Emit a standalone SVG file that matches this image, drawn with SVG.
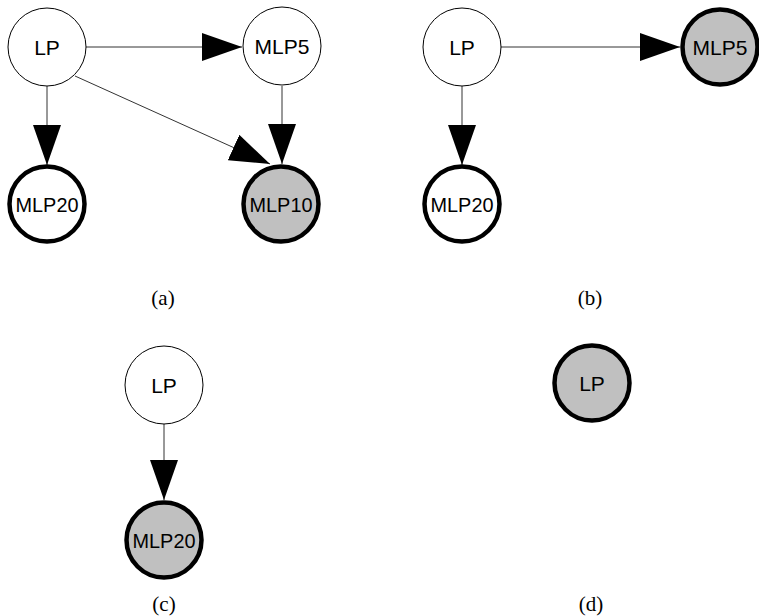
<svg xmlns="http://www.w3.org/2000/svg" width="759" height="616" viewBox="0 0 759 616">
<defs>
<marker id="ah" markerUnits="userSpaceOnUse" markerWidth="40" markerHeight="28" refX="40" refY="14" orient="auto">
<path d="M0,0 L40,14 L0,28 z" fill="#000"/>
</marker>
<style>
.n{fill:#fff;stroke:#000;stroke-width:1}
.o{fill:#fff;stroke:#000;stroke-width:4.5}
.g{fill:#c0c0c0;stroke:#000;stroke-width:4.5}
.t{font-family:"Liberation Sans",Arial,sans-serif;font-size:21px;fill:#000;text-anchor:middle}
.c{font-family:"Liberation Serif","Times New Roman",serif;font-size:21px;fill:#000;text-anchor:middle}
.e{stroke:#333;stroke-width:1;fill:none;marker-end:url(#ah)}
</style>
</defs>
<rect width="759" height="616" fill="#fff"/>
<g id="edges">
<line class="e" x1="86" y1="47" x2="242" y2="47"/>
<line class="e" x1="47" y1="86" x2="47" y2="165"/>
<line class="e" x1="75" y1="76" x2="270" y2="164"/>
<line class="e" x1="282" y1="86" x2="282" y2="164"/>
<line class="e" x1="501" y1="47" x2="680" y2="47"/>
<line class="e" x1="462" y1="86" x2="462" y2="165"/>
<line class="e" x1="164" y1="424" x2="164" y2="500"/>
</g>
<g id="a_LP"><circle class="n" cx="47" cy="47" r="39"/><text class="t" x="47" y="55">LP</text></g>
<g id="a_MLP5"><circle class="n" cx="282" cy="46" r="39"/><text class="t" x="282" y="54">MLP5</text></g>
<g id="a_MLP20"><circle class="o" cx="47" cy="204" r="37.5"/><text class="t" x="47" y="212" textLength="63" lengthAdjust="spacingAndGlyphs">MLP20</text></g>
<g id="a_MLP10"><circle class="g" cx="281" cy="204" r="37.5"/><text class="t" x="281" y="212" textLength="63" lengthAdjust="spacingAndGlyphs">MLP10</text></g>
<g id="b_LP"><circle class="n" cx="462" cy="47" r="39"/><text class="t" x="462" y="55">LP</text></g>
<g id="b_MLP5"><circle class="g" cx="720" cy="47" r="37.5"/><text class="t" x="720" y="55">MLP5</text></g>
<g id="b_MLP20"><circle class="o" cx="462" cy="204" r="37.5"/><text class="t" x="462" y="212" textLength="63" lengthAdjust="spacingAndGlyphs">MLP20</text></g>
<g id="c_LP"><circle class="n" cx="164" cy="385" r="39"/><text class="t" x="164" y="393">LP</text></g>
<g id="c_MLP20"><circle class="g" cx="164" cy="540" r="37.5"/><text class="t" x="164" y="548" textLength="63" lengthAdjust="spacingAndGlyphs">MLP20</text></g>
<g id="d_LP"><circle class="g" cx="592" cy="383" r="37.5"/><text class="t" x="592" y="391">LP</text></g>
<g id="captions">
<text class="c" x="163" y="305">(a)</text>
<text class="c" x="590" y="305">(b)</text>
<text class="c" x="164" y="611">(c)</text>
<text class="c" x="591" y="611">(d)</text>
</g>
</svg>
